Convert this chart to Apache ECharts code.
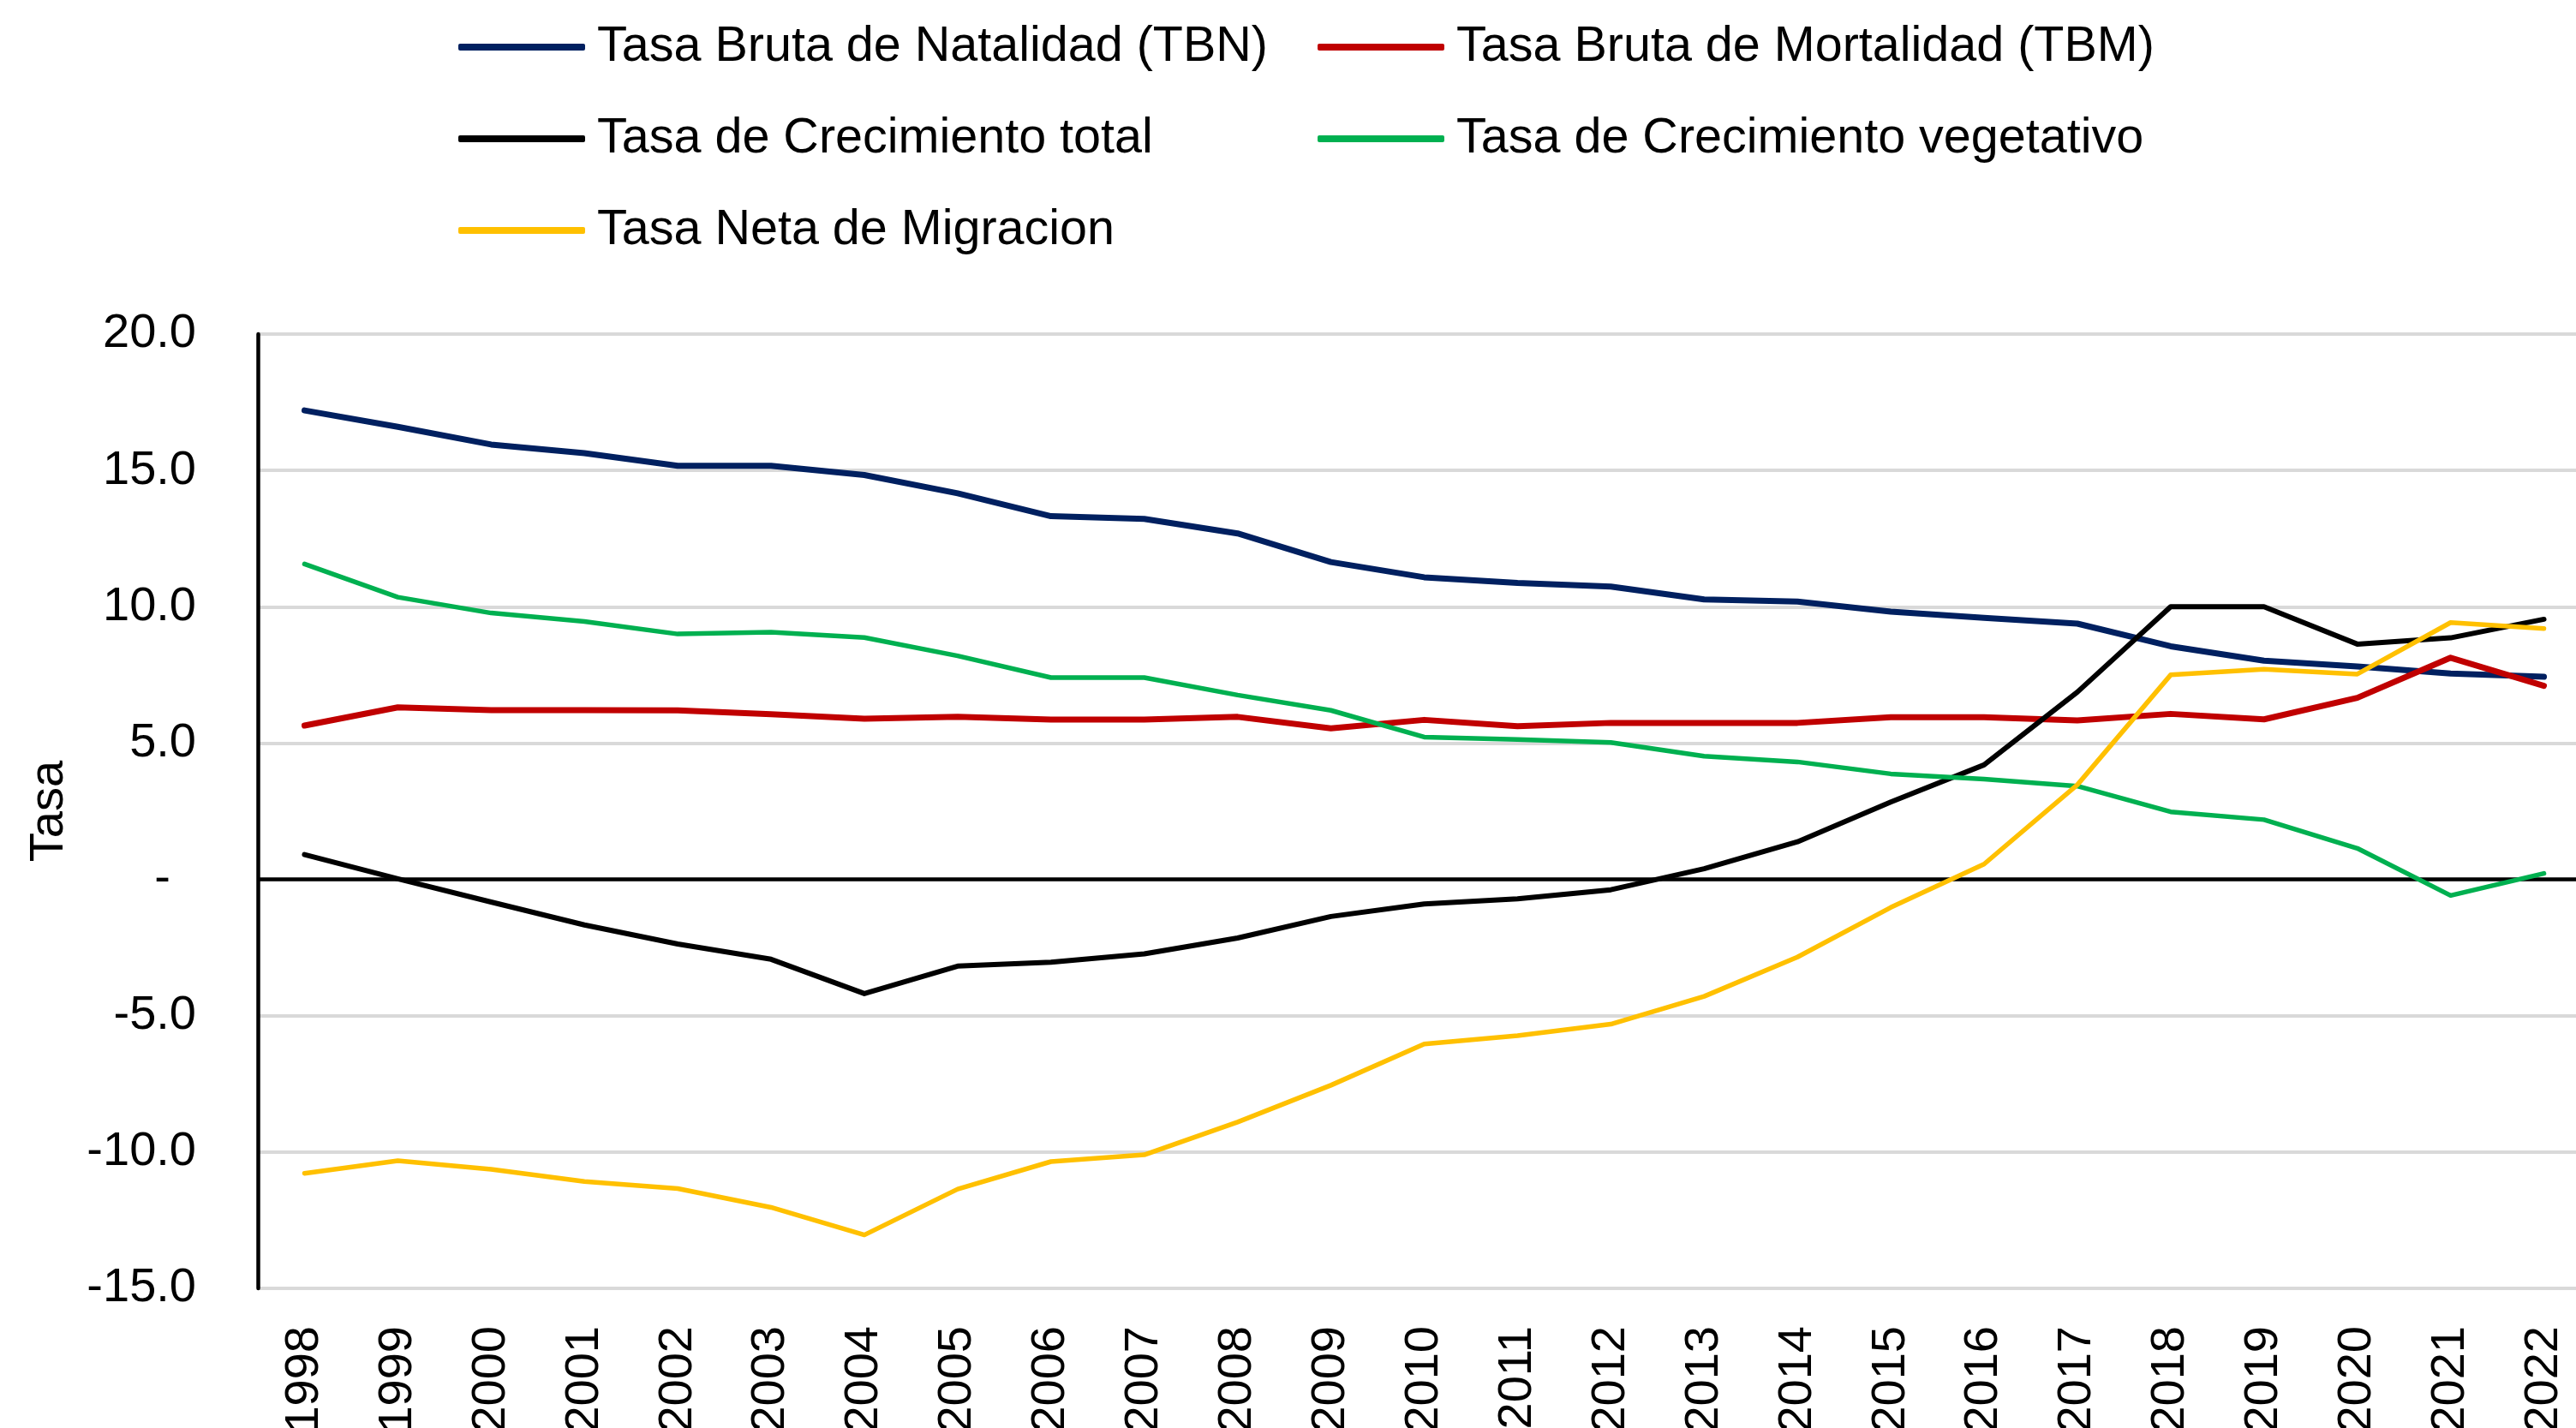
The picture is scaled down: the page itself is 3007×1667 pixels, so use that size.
<!DOCTYPE html>
<html>
<head>
<meta charset="utf-8">
<script src="https://cdn.jsdelivr.net/npm/echarts@6/dist/echarts.min.js"></script>
<style>
html,body{margin:0;padding:0;background:#fff;}
#chart{width:3007px;height:1667px;}
</style>
</head>
<body>
<div id="chart"></div>
<script>
const years = ['1998','1999','2000','2001','2002','2003','2004','2005','2006','2007','2008','2009','2010','2011','2012','2013','2014','2015','2016','2017','2018','2019','2020','2021','2022'];
const seriesNames = ['Tasa Bruta de Natalidad (TBN)','Tasa Bruta de Mortalidad (TBM)','Tasa de Crecimiento total','Tasa de Crecimiento vegetativo','Tasa Neta de Migracion'];
const tbn = [17.2, 16.6, 15.95, 15.63, 15.17, 15.17, 14.83, 14.16, 13.32, 13.22, 12.69, 11.64, 11.08, 10.87, 10.74, 10.27, 10.19, 9.82, 9.59, 9.38, 8.55, 8.02, 7.81, 7.55, 7.43];
const tbm = [5.64, 6.31, 6.21, 6.21, 6.2, 6.06, 5.89, 5.96, 5.86, 5.86, 5.96, 5.54, 5.85, 5.62, 5.74, 5.74, 5.74, 5.95, 5.95, 5.83, 6.07, 5.87, 6.66, 8.13, 7.1];
const crecTotal = [0.91, 0.02, -0.83, -1.67, -2.37, -2.93, -4.19, -3.18, -3.04, -2.73, -2.15, -1.36, -0.9, -0.71, -0.38, 0.39, 1.38, 2.84, 4.2, 6.87, 10.0, 10.0, 8.63, 8.86, 9.54];
const crecVeget = [11.57, 10.35, 9.77, 9.46, 9.0, 9.07, 8.87, 8.2, 7.4, 7.4, 6.76, 6.2, 5.22, 5.13, 5.02, 4.52, 4.31, 3.87, 3.68, 3.42, 2.48, 2.19, 1.14, -0.59, 0.22];
const migracion = [-10.78, -10.32, -10.63, -11.08, -11.34, -12.03, -13.04, -11.36, -10.35, -10.1, -8.9, -7.55, -6.04, -5.73, -5.31, -4.29, -2.85, -1.03, 0.56, 3.47, 7.5, 7.71, 7.53, 9.42, 9.2];
const yTicks = {min: -15, max: 20, interval: 5};
const yAxisName = 'Tasa';

const colors = ['#002060', '#C00000', '#000000', '#00B050', '#FFC000'];
const widths = [7, 7, 6, 5.5, 5.5];
const dataSets = [tbn, tbm, crecTotal, crecVeget, migracion];
const FONT = '"Liberation Sans", Arial, sans-serif';

const legendPos = [
  {left: 535, top: 26},
  {left: 1538, top: 26},
  {left: 535, top: 133},
  {left: 1538, top: 133},
  {left: 535, top: 240}
];

const legends = seriesNames.map((n, i) => ({
  data: [n],
  left: legendPos[i].left,
  top: legendPos[i].top,
  padding: 0,
  icon: 'roundRect',
  itemWidth: 148,
  itemHeight: 8,
  selectedMode: false,
  textStyle: {fontFamily: FONT, fontSize: 57.5, color: '#000', lineHeight: 57, padding: [0, 0, 0, 9]}
}));

const series = seriesNames.map((n, i) => {
  const s = {
    name: n,
    type: 'line',
    data: dataSets[i],
    showSymbol: false,
    symbol: 'none',
    smooth: false,
    color: colors[i],
    lineStyle: {color: colors[i], width: widths[i], cap: 'round', join: 'round'},
    z: 3 + i
  };
  if (i === 0) {
    s.markLine = {
      silent: true,
      symbol: ['none', 'none'],
      label: {show: false},
      lineStyle: {color: '#000', width: 4.5, type: 'solid'},
      data: [{yAxis: 0}],
      z: 2
    };
  }
  return s;
});

const chart = echarts.init(document.getElementById('chart'), null, {renderer: 'canvas'});
chart.setOption({
  animation: false,
  backgroundColor: '#fff',
  legend: legends,
  grid: {left: 301, top: 390, width: 2723, height: 1114, containLabel: false, outerBoundsMode: 'none'},
  xAxis: {
    type: 'category',
    data: years,
    boundaryGap: true,
    axisLine: {show: false, onZero: false},
    axisTick: {show: false},
    splitLine: {show: false},
    axisLabel: {rotate: 90, margin: 44, fontFamily: FONT, fontSize: 56, color: '#000', interval: 0}
  },
  yAxis: {
    type: 'value',
    min: yTicks.min,
    max: yTicks.max,
    interval: yTicks.interval,
    name: yAxisName,
    nameLocation: 'middle',
    nameRotate: 90,
    nameGap: 215,
    nameTextStyle: {fontFamily: FONT, fontSize: 56, color: '#000'},
    axisLine: {show: true, lineStyle: {color: '#000', width: 4.5}},
    axisTick: {show: false},
    splitLine: {show: true, lineStyle: {color: '#D9D9D9', width: 4}},
    axisLabel: {
      margin: 72,
      fontFamily: FONT,
      fontSize: 56,
      color: '#000',
      formatter: function (v) { return v === 0 ? '{z|-}' : v.toFixed(1); },
      rich: {z: {fontFamily: FONT, fontSize: 56, color: '#000', padding: [0, 30, 0, 0]}}
    }
  },
  series: series
});
</script>
</body>
</html>
